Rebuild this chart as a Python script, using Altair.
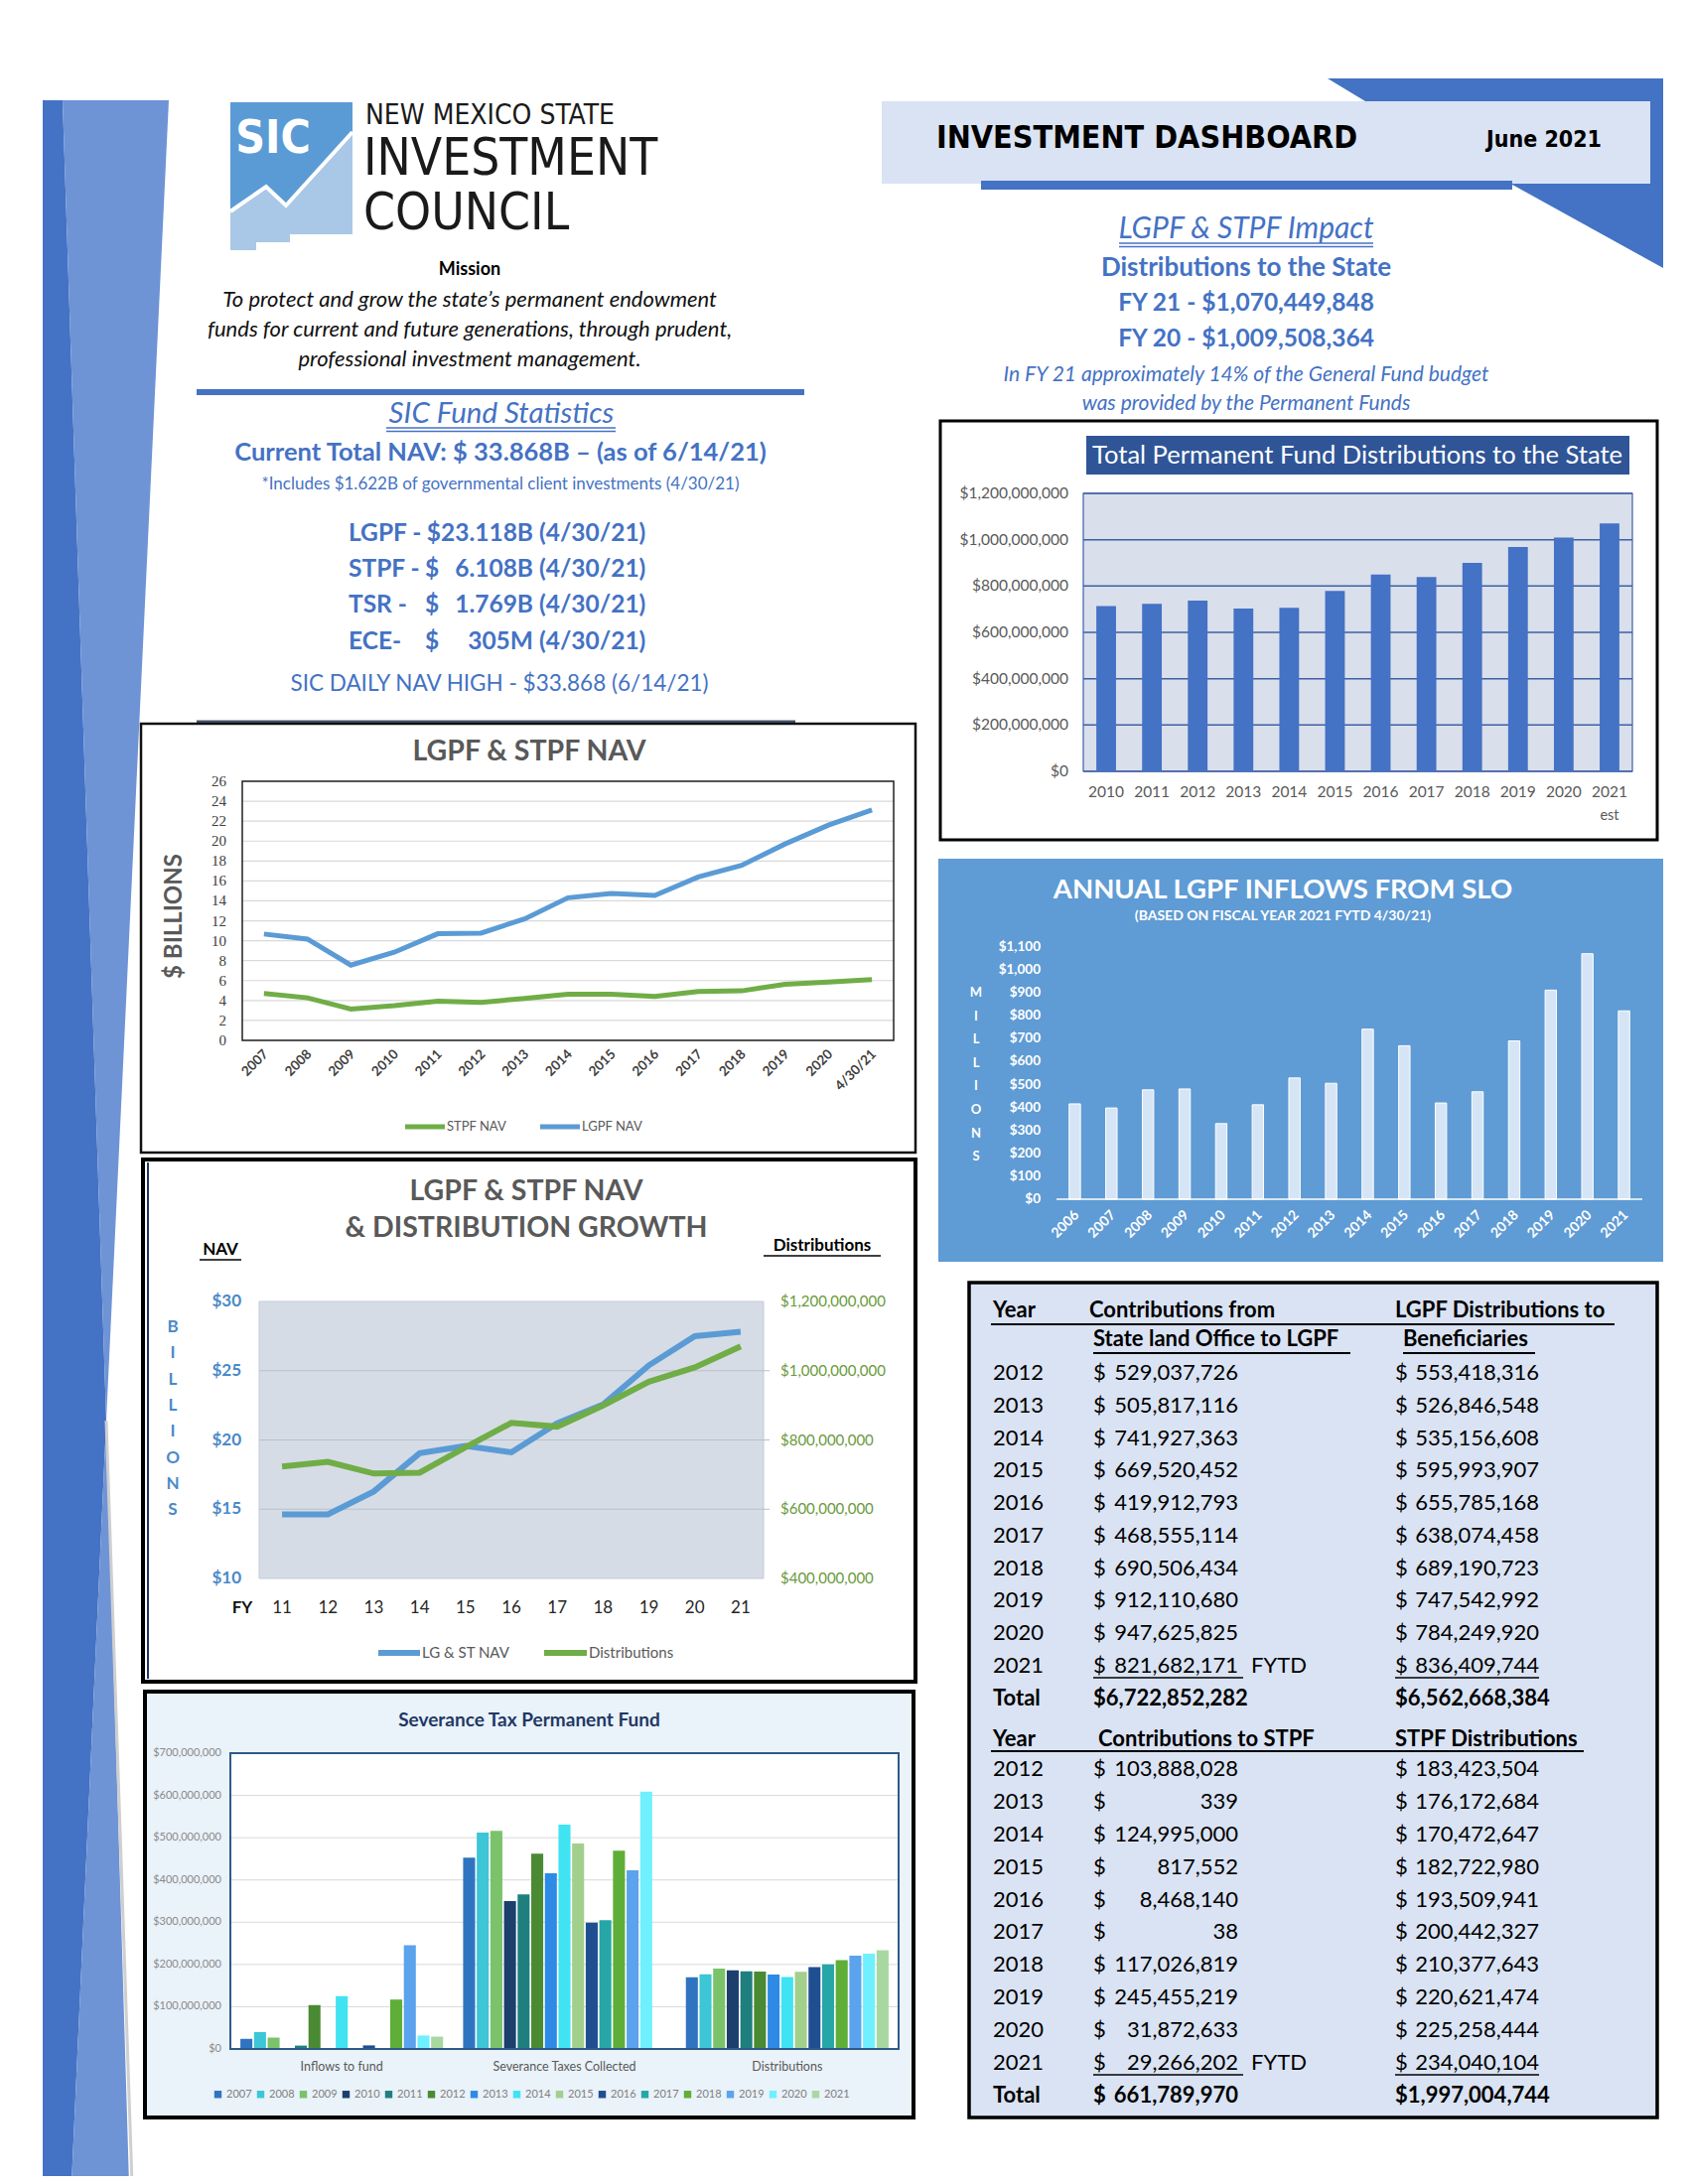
import altair as alt
import pandas as pd

# ---------------- data ----------------
# Total Permanent Fund Distributions to the State
dist_years = ["2010", "2011", "2012", "2013", "2014", "2015", "2016", "2017", "2018", "2019", "2020", "2021"]
dist_total = [714e6, 723e6, 736.8e6, 703.0e6, 705.6e6, 778.7e6, 849.3e6, 838.5e6, 899.6e6, 968.2e6, 1009.5e6, 1070.4e6]
dist_ticks = [0, 200e6, 400e6, 600e6, 800e6, 1000e6, 1200e6]

# LGPF & STPF NAV ($ billions)
nav_years = ["2007", "2008", "2009", "2010", "2011", "2012", "2013", "2014", "2015", "2016",
             "2017", "2018", "2019", "2020", "4/30/21"]
lgpf_nav = [10.67, 10.17, 7.55, 8.84, 10.70, 10.77, 12.19, 14.31, 14.74, 14.54, 16.40, 17.56, 19.71, 21.60, 23.12]
stpf_nav = [4.70, 4.27, 3.15, 3.48, 3.94, 3.81, 4.21, 4.64, 4.64, 4.41, 4.90, 4.97, 5.63, 5.86, 6.11]
nav_ticks = [0, 2, 4, 6, 8, 10, 12, 14, 16, 18, 20, 22, 24, 26]

# LGPF & STPF NAV & distribution growth
fy_labels = ["11", "12", "13", "14", "15", "16", "17", "18", "19", "20", "21"]
growth_nav = [14.63, 14.63, 16.28, 19.04, 19.56, 19.11, 21.21, 22.56, 25.39, 27.49, 27.81]
growth_dist = [723e6, 736.8e6, 703.0e6, 705.6e6, 778.7e6, 849.3e6, 838.5e6, 899.6e6, 968.2e6, 1009.5e6, 1070.4e6]
growth_nav_ticks = [10, 15, 20, 25, 30]
growth_dist_ticks = [400e6, 600e6, 800e6, 1000e6, 1200e6]

# Annual LGPF inflows from SLO ($ millions)
slo_years = ["2006", "2007", "2008", "2009", "2010", "2011", "2012", "2013", "2014", "2015",
             "2016", "2017", "2018", "2019", "2020", "2021"]
slo_inflows = [416, 398, 477, 481, 330, 412, 529.0, 505.8, 741.9, 669.5, 419.9, 468.6, 690.5, 912.1, 1071, 821.7]
slo_ticks = [0, 100, 200, 300, 400, 500, 600, 700, 800, 900, 1000, 1100]

# Severance Tax Permanent Fund
sev_groups = ["Inflows to fund", "Severance Taxes Collected", "Distributions"]
sev_years = ["2007", "2008", "2009", "2010", "2011", "2012", "2013", "2014", "2015", "2016",
             "2017", "2018", "2019", "2020", "2021"]
sev_inflows = [24e6, 40e6, 27e6, 2e6, 8e6, 103.9e6, 339, 125.0e6, 0.8e6, 8.5e6, 38, 117.0e6, 245.5e6, 31.9e6, 29.3e6]
sev_taxes = [453e6, 512e6, 516e6, 350e6, 366e6, 462e6, 416e6, 531e6, 486e6, 299e6, 305e6, 469e6, 423e6, 609e6, None]
sev_dist = [170e6, 177e6, 190e6, 186e6, 184e6, 183.4e6, 176.2e6, 170.5e6, 182.7e6, 193.5e6, 200.4e6,
            210.4e6, 220.6e6, 225.3e6, 234.0e6]
sev_colors = ["#2f74c0", "#3cc6d6", "#7ac36a", "#1c3f6e", "#1f7f7f", "#4a8a33", "#2d8be6", "#3fe3f2",
              "#a3cf8c", "#1f4f91", "#26a6a6", "#5fae37", "#5ba3ec", "#6ff0ff", "#a9d7a0"]
sev_ticks = [0, 100e6, 200e6, 300e6, 400e6, 500e6, 600e6, 700e6]

# Tables
tbl_years = ["2012", "2013", "2014", "2015", "2016", "2017", "2018", "2019", "2020", "2021"]
lgpf_contrib = [529037726, 505817116, 741927363, 669520452, 419912793, 468555114, 690506434, 912110680, 947625825, 821682171]
lgpf_distrib = [553418316, 526846548, 535156608, 595993907, 655785168, 638074458, 689190723, 747542992, 784249920, 836409744]
lgpf_totals = ["$6,722,852,282", "$6,562,668,384"]
stpf_contrib = [103888028, 339, 124995000, 817552, 8468140, 38, 117026819, 245455219, 31872633, 29266202]
stpf_distrib = [183423504, 176172684, 170472647, 182722980, 193509941, 200442327, 210377643, 220621474, 225258444, 234040104]
stpf_totals = ["661,789,970", "$1,997,004,744"]

# Text blocks
mission_lines = ["To protect and grow the state\u2019s permanent endowment",
                 "funds for current and future generations, through prudent,",
                 "professional investment management."]
stat_labels = ["LGPF -", "STPF -", "TSR -", "ECE-"]
stat_values = ["$23.118B", "6.108B", "1.769B", "305M"]
stat_dates = ["(4/30/21)", "(4/30/21)", "(4/30/21)", "(4/30/21)"]

# ---------------- layout helpers ----------------
W, H = 1684, 2184
def X(p): return p - 8
def Y(p): return p - 8

FONT = "Lato"
NARROW = "Liberation Sans Narrow, DejaVu Sans Condensed, sans-serif"
SERIF = "Liberation Serif"
BLUE = "#4472c4"
ONE = pd.DataFrame({"k": [0]})
PX = alt.Scale(domain=[0, 1700], range=[X(0), X(1700)], zero=False, nice=False)
PY = alt.Scale(domain=[0, 2200], range=[Y(0), Y(2200)], zero=False, nice=False)

layers = []
add = layers.append

def T(s, x, y, size, color="black", weight="normal", italic=False, align="center", font=FONT, angle=None,
      baseline="middle"):
    kw = dict(fontSize=size, color=color, fontWeight=weight, align=align, font=font, baseline=baseline)
    if italic:
        kw["fontStyle"] = "italic"
    if angle is not None:
        kw["angle"] = angle
    return alt.Chart(ONE).mark_text(**kw).encode(x=alt.value(X(x)), y=alt.value(Y(y)), text=alt.value(s))

def RECT(x1, y1, x2, y2, fill=None, stroke=None, sw=1):
    kw = {"fill": fill if fill else "transparent"}
    if stroke:
        kw["stroke"] = stroke
        kw["strokeWidth"] = sw
    return alt.Chart(ONE).mark_rect(**kw).encode(
        x=alt.value(X(x1)), x2=alt.value(X(x2)), y=alt.value(Y(y1)), y2=alt.value(Y(y2)))

def RULE(x1, y1, x2, y2, color, w):
    return alt.Chart(ONE).mark_rule(stroke=color, strokeWidth=w).encode(
        x=alt.value(X(x1)), x2=alt.value(X(x2)), y=alt.value(Y(y1)), y2=alt.value(Y(y2)))

def money(v):
    return "$" + f"{v:,.0f}"

def ylabels(ticks, texts, scale, px, size, color, weight="normal", font=FONT, align="right"):
    df = pd.DataFrame({"v": ticks, "lab": texts})
    return alt.Chart(df).mark_text(font=font, fontSize=size, color=color, fontWeight=weight, align=align,
                                   baseline="middle").encode(
        y=alt.Y("v:Q", scale=scale, axis=None), x=alt.value(X(px)), text="lab:N")

def xlabels(cats, scale, py, size, color, weight="normal", angle=None, font=FONT, dx=0):
    df = pd.DataFrame({"c": cats})
    kw = dict(font=font, fontSize=size, color=color, fontWeight=weight, baseline="middle")
    if angle is not None:
        kw.update(angle=angle, align="right", dx=dx)
    else:
        kw.update(align="center")
    return alt.Chart(df).mark_text(**kw).encode(
        x=alt.X("c:N", sort=cats, scale=scale, axis=None), y=alt.value(Y(py)), text="c:N")

# ---------------- decorations ----------------
band_y = [101, 1431, 2200]
band_l = [43, 43, 43]
band_m = [63, 107, 72]
band_r = [170, 107, 130]
add(alt.Chart(pd.DataFrame({"py": band_y, "a": band_l, "b": band_m})).mark_area(orient="horizontal", color="#4472c4").encode(
    y=alt.Y("py:Q", scale=PY, axis=None), x=alt.X("a:Q", scale=PX, axis=None), x2="b:Q"))
add(alt.Chart(pd.DataFrame({"py": band_y, "a": band_m, "b": band_r})).mark_area(orient="horizontal", color="#6e94d6").encode(
    y=alt.Y("py:Q", scale=PY, axis=None), x=alt.X("a:Q", scale=PX, axis=None), x2="b:Q"))
add(RULE(107, 1431, 133, 2200, "#cfcfcf", 3))

# logo
add(RECT(232, 103, 355, 236, fill="#a9c7e7"))
add(RECT(232, 235, 292, 244, fill="#a9c7e7"))
add(RECT(232, 243, 258, 252, fill="#a9c7e7"))
zig = pd.DataFrame({"px": [232, 268, 288, 355], "py": [213, 188, 207, 133], "top": [103, 103, 103, 103]})
add(alt.Chart(zig).mark_area(orient="vertical", color="#5b9bd5").encode(
    x=alt.X("px:Q", scale=PX, axis=None), y=alt.Y("top:Q", scale=PY, axis=None), y2="py:Q"))
add(alt.Chart(zig).mark_line(color="white", strokeWidth=4).encode(
    x=alt.X("px:Q", scale=PX, axis=None), y=alt.Y("py:Q", scale=PY, axis=None)))
add(T("SIC", 275, 140, 46, color="white", weight="bold", font=NARROW))
add(T("NEW MEXICO STATE", 368, 117, 28, color="#1a1a1a", align="left", font=NARROW))
add(T("INVESTMENT", 366, 161, 51, color="#1a1a1a", align="left", font=NARROW))
add(T("COUNCIL", 366, 215.5, 51, color="#1a1a1a", align="left", font=NARROW))

# mission
add(T("Mission", 473, 272, 18, weight="bold"))
for i, line in enumerate(mission_lines):
    add(T(line, 473, [302, 332, 362][i], 22, italic=True, color="#111111"))
add(RULE(198, 395, 810, 395, BLUE, 6))

# fund statistics
add(T("SIC Fund Statistics", 505, 417, 29.5, color=BLUE, italic=True))
add(RULE(389, 431, 620, 431, BLUE, 1.5))
add(RULE(389, 434.5, 620, 434.5, BLUE, 1.5))
add(T("Current Total NAV: $ 33.868B \u2013 (as of 6/14/21)", 504, 456, 25.5, color=BLUE, weight="bold"))
add(T("*Includes $1.622B of governmental client investments (4/30/21)", 504, 488, 17, color=BLUE))
for i in range(4):
    yy = [538, 574, 610, 647][i]
    add(T(stat_labels[i], 351, yy, 24.5, color=BLUE, weight="bold", align="left"))
    if i > 0:
        add(T("$", 428, yy, 24.5, color=BLUE, weight="bold", align="left"))
    add(T(stat_values[i], 537, yy, 24.5, color=BLUE, weight="bold", align="right"))
    add(T(stat_dates[i], 543, yy, 24.5, color=BLUE, weight="bold", align="left"))
add(T("SIC DAILY NAV HIGH - $33.868 (6/14/21)", 503, 689, 22.5, color=BLUE))
add(RULE(198, 727, 801, 727, "#44546a", 3))

# header right
add(alt.Chart(pd.DataFrame({"px": [1337, 1375, 1523, 1675], "top": [79, 79, 79, 79], "bot": [79, 102, 186, 270]})).mark_area(
    orient="vertical", color=BLUE).encode(
    x=alt.X("px:Q", scale=PX, axis=None), y=alt.Y("top:Q", scale=PY, axis=None), y2="bot:Q"))
add(RECT(888, 102, 1662, 185, fill="#dae3f3"))
add(RECT(988, 182, 1523, 191, fill=BLUE))
add(T("INVESTMENT DASHBOARD", 943, 139, 32, weight="bold", align="left", font=NARROW))
add(T("June 2021", 1497, 141, 23, weight="bold", align="left", font=NARROW))

add(T("LGPF & STPF Impact", 1255, 231, 30, color=BLUE, italic=True))
add(RULE(1127, 245, 1383, 245, BLUE, 1.5))
add(RULE(1127, 248.5, 1383, 248.5, BLUE, 1.5))
add(T("Distributions to the State", 1255, 270, 26, color=BLUE, weight="bold"))
add(T("FY 21 - $1,070,449,848", 1255, 306, 24.5, color=BLUE, weight="bold"))
add(T("FY 20 - $1,009,508,364", 1255, 342, 24.5, color=BLUE, weight="bold"))
add(T("In FY 21 approximately 14% of the General Fund budget", 1255, 378, 21, color=BLUE, italic=True))
add(T("was provided by the Permanent Funds", 1255, 407, 21, color=BLUE, italic=True))

# ---------------- Chart A: Total Permanent Fund Distributions ----------------
add(RECT(947, 424, 1669, 846, fill="white", stroke="black", sw=3))
add(RECT(1094, 439, 1641, 478, fill="#2f5597"))
add(T("Total Permanent Fund Distributions to the State", 1367, 459, 25.5, color="white"))
a_x = alt.Scale(domain=dist_years, range=[X(1091), X(1644)], paddingInner=0.57, paddingOuter=0.285)
a_y = alt.Scale(domain=[0, 1.2e9], range=[Y(777), Y(497)], nice=False, zero=False)
a_bg = RECT(1091, 497, 1644, 777, fill="#d9dfeb")
a_edges = RECT(1091, 497, 1644, 777, stroke="#3f5fa6", sw=1.2)
a_grid = alt.Chart(pd.DataFrame({"v": dist_ticks})).mark_rule(stroke="#3f5fa6", strokeWidth=1.5).encode(
    y=alt.Y("v:Q", scale=a_y, axis=None), x=alt.value(X(1091)), x2=alt.value(X(1644)))
a_bars = alt.Chart(pd.DataFrame({"year": dist_years, "amt": dist_total})).mark_bar(color=BLUE).encode(
    x=alt.X("year:O", sort=dist_years, scale=a_x, axis=None),
    y=alt.Y("amt:Q", scale=a_y, axis=None))
a_ylab = ylabels(dist_ticks, [money(v) for v in dist_ticks], a_y, 1076, 15.5, "#595959")
a_xlab = xlabels(dist_years, a_x, 798, 15.5, "#595959")
add(alt.layer(a_bg, a_grid, a_edges, a_bars, a_ylab, a_xlab))
add(T("est", 1621, 822, 14.5, color="#595959"))

# ---------------- Chart B: LGPF & STPF NAV ----------------
add(RECT(142, 729, 922, 1161, fill="white", stroke="#111111", sw=2.5))
add(T("LGPF & STPF NAV", 533, 757, 28.5, color="#595959", weight="bold"))
add(T("$ BILLIONS", 176, 923, 24, color="#595959", weight="bold", angle=270))
b_x = alt.Scale(domain=nav_years, range=[X(244), X(900)], padding=0.5)
b_y = alt.Scale(domain=[0, 26], range=[Y(1048), Y(787)], nice=False, zero=False)
nav_df = pd.DataFrame({"year": nav_years, "lgpf": lgpf_nav, "stpf": stpf_nav})
b_grid = alt.Chart(pd.DataFrame({"v": nav_ticks})).mark_rule(stroke="#d9d9d9", strokeWidth=1.2).encode(
    y=alt.Y("v:Q", scale=b_y, axis=None), x=alt.value(X(244)), x2=alt.value(X(900)))
b_frame = RECT(244, 787, 900, 1048, stroke="#222222", sw=1.5)
b_stpf = alt.Chart(nav_df).mark_line(stroke="#70ad47", strokeWidth=5).encode(
    x=alt.X("year:O", sort=nav_years, scale=b_x, axis=None),
    y=alt.Y("stpf:Q", scale=b_y, axis=None))
b_lgpf = alt.Chart(nav_df).mark_line(stroke="#5b9bd5", strokeWidth=5).encode(
    x=alt.X("year:O", sort=nav_years, scale=b_x, axis=None),
    y=alt.Y("lgpf:Q", scale=b_y, axis=None))
b_ylab = ylabels(nav_ticks, [str(v) for v in nav_ticks], b_y, 228, 15, "#404040", font=SERIF)
b_xlab = xlabels(nav_years, b_x, 1062, 13.5, "#404040", weight="bold", angle=315, dx=3)
add(alt.layer(b_grid, b_frame, b_stpf, b_lgpf, b_ylab, b_xlab))
add(RULE(408, 1135, 448, 1135, "#70ad47", 5))
add(T("STPF NAV", 450, 1135, 13, color="#595959", align="left"))
add(RULE(544, 1135, 584, 1135, "#5b9bd5", 5))
add(T("LGPF NAV", 586, 1135, 13, color="#595959", align="left"))

# ---------------- Chart C: NAV & distribution growth ----------------
add(RECT(144, 1168, 922, 1694, fill="white", stroke="black", sw=4))
add(RULE(149, 1171, 149, 1691, "#1f3864", 2))
add(T("LGPF & STPF NAV", 530, 1200, 28.5, color="#595959", weight="bold"))
add(T("& DISTRIBUTION GROWTH", 530, 1237, 28.5, color="#595959", weight="bold"))
add(T("NAV", 222, 1259, 17, weight="bold"))
add(RULE(201, 1269, 243, 1269, "black", 1.5))
add(T("Distributions", 828, 1255, 17, weight="bold"))
add(RULE(769, 1265, 887, 1265, "black", 1.5))
for i, ch in enumerate("BILLIONS"):
    add(T(ch, 174, 1337 + i * 26.3, 17, color="#4a89c8", weight="bold"))
add(T("FY", 244, 1620, 17, color="#111111", weight="bold"))
c_x = alt.Scale(domain=fy_labels, range=[X(261), X(769)], padding=0.5)
c_yl = alt.Scale(domain=[10, 30], range=[Y(1590), Y(1311)], nice=False, zero=False)
c_yr = alt.Scale(domain=[400e6, 1200e6], range=[Y(1590), Y(1311)], nice=False, zero=False)
c_bg = RECT(261, 1311, 769, 1590, fill="#d6dce5", stroke="#c3cbd8", sw=1)
c_grid = alt.Chart(pd.DataFrame({"v": growth_nav_ticks[1:4]})).mark_rule(stroke="#b8c0cc", strokeWidth=1.2).encode(
    y=alt.Y("v:Q", scale=c_yl, axis=None), x=alt.value(X(261)), x2=alt.value(X(775)))
g_df = pd.DataFrame({"fy": fy_labels, "nav": growth_nav, "dist": growth_dist})
c_nav = alt.Chart(g_df).mark_line(stroke="#5b9bd5", strokeWidth=6).encode(
    x=alt.X("fy:O", sort=fy_labels, scale=c_x, axis=None),
    y=alt.Y("nav:Q", scale=c_yl, axis=None))
c_dist = alt.Chart(g_df).mark_line(stroke="#70ad47", strokeWidth=6).encode(
    x=alt.X("fy:O", sort=fy_labels, scale=c_x, axis=None),
    y=alt.Y("dist:Q", scale=c_yr, axis=None))
c_lab_l = ylabels(growth_nav_ticks, ["$" + str(v) for v in growth_nav_ticks], c_yl, 243, 17, "#4a89c8", weight="bold")
c_lab_r = ylabels(growth_dist_ticks, [money(v) for v in growth_dist_ticks], c_yr, 786, 15, "#6a9a3c", align="left")
c_xlab = xlabels(fy_labels, c_x, 1620, 17, "#262626")
add(alt.layer(c_bg, c_grid, c_nav, c_lab_l, c_xlab, alt.layer(c_dist, c_lab_r)).resolve_scale(y="independent"))
add(RULE(381, 1665, 423, 1665, "#5b9bd5", 6))
add(T("LG & ST NAV", 425, 1665, 15, color="#595959", align="left"))
add(RULE(548, 1665, 591, 1665, "#70ad47", 6))
add(T("Distributions", 593, 1665, 15, color="#595959", align="left"))

# ---------------- Chart D: Severance Tax Permanent Fund ----------------
add(RECT(146, 1704, 920, 2133, fill="#eaf2fa", stroke="black", sw=4))
add(T("Severance Tax Permanent Fund", 533, 1733, 19, color="#1f3864", weight="bold"))
rows = []
for g, vals in zip(sev_groups, [sev_inflows, sev_taxes, sev_dist]):
    for yr, v in zip(sev_years, vals):
        if v is not None:
            rows.append({"grp": g, "year": yr, "val": v})
sev_df = pd.DataFrame(rows)
d_x = alt.Scale(domain=sev_groups, range=[X(232), X(905)], paddingInner=0.09, paddingOuter=0.045)
d_y = alt.Scale(domain=[0, 7e8], range=[Y(2064), Y(1766)], nice=False, zero=False)
d_bg = RECT(232, 1766, 905, 2064, fill="white")
d_grid = alt.Chart(pd.DataFrame({"v": sev_ticks})).mark_rule(stroke="#d9d9d9", strokeWidth=1).encode(
    y=alt.Y("v:Q", scale=d_y, axis=None), x=alt.value(X(232)), x2=alt.value(X(905)))
d_bars = alt.Chart(sev_df).mark_bar().encode(
    x=alt.X("grp:N", sort=sev_groups, scale=d_x, axis=None),
    xOffset=alt.XOffset("year:N", sort=sev_years, scale=alt.Scale(domain=sev_years, paddingInner=0.12)),
    y=alt.Y("val:Q", scale=d_y, axis=None),
    color=alt.Color("year:N", sort=sev_years, scale=alt.Scale(domain=sev_years, range=sev_colors),
                    legend=alt.Legend(orient="none", legendX=X(214), legendY=Y(2104), direction="horizontal",
                                      title=None, symbolType="square", symbolSize=55, symbolStrokeWidth=0,
                                      labelFont=FONT, labelFontSize=11, labelColor="#7f7f7f",
                                      columnPadding=3, labelOffset=3, columns=15)))
d_frame = RECT(232, 1766, 905, 2064, stroke="#2e5a8a", sw=2)
d_ylab = ylabels(sev_ticks, [money(v) for v in sev_ticks], d_y, 223, 11, "#8a8a8a")
d_xlab = xlabels(sev_groups, d_x, 2082, 12.5, "#595959")
add(alt.layer(d_bg, d_grid, d_bars, d_frame, d_ylab, d_xlab))

# ---------------- Chart E: Annual LGPF inflows from SLO ----------------
add(RECT(945, 865, 1675, 1271, fill="#5f9bd4"))
add(T("ANNUAL LGPF INFLOWS FROM SLO", 1292, 897, 27.5, color="white", weight="bold"))
add(T("(BASED ON FISCAL YEAR    2021 FYTD 4/30/21)", 1292, 923, 14, color="white", weight="bold"))
for i, ch in enumerate("MILLIONS"):
    add(T(ch, 983, 1000 + i * 23.6, 13, color="white", weight="bold"))
e_x = alt.Scale(domain=slo_years, range=[X(1064), X(1654)], paddingInner=0.69, paddingOuter=0.345)
e_y = alt.Scale(domain=[0, 1100], range=[Y(1208), Y(954)], nice=False, zero=False)
e_bars = alt.Chart(pd.DataFrame({"yr": slo_years, "v": slo_inflows})).mark_bar(fill="#d5e5f5", stroke="white", strokeWidth=1).encode(
    x=alt.X("yr:O", sort=slo_years, scale=e_x, axis=None),
    y=alt.Y("v:Q", scale=e_y, axis=None))
e_ylab = ylabels(slo_ticks, [money(v) for v in slo_ticks], e_y, 1048, 13.5, "white", weight="bold")
e_xlab = xlabels(slo_years, e_x, 1224, 14, "white", weight="bold", angle=315, dx=3)
add(alt.layer(e_bars, e_ylab, e_xlab))
add(RULE(1064, 1208, 1654, 1208, "white", 1.5))

# ---------------- Tables ----------------
add(RECT(976, 1292, 1669, 2133, fill="#dae3f3", stroke="black", sw=3.5))
TS = 22
add(T("Year", 1000, 1320, TS, align="left", weight="bold"))
add(T("Contributions from", 1097, 1320, TS, align="left", weight="bold"))
add(T("LGPF Distributions to", 1405, 1320, TS, align="left", weight="bold"))
add(RULE(998, 1334, 1626, 1334, "black", 2))
add(T("State land Office to LGPF", 1101, 1349, TS, align="left", weight="bold"))
add(T("Beneficiaries", 1413, 1349, TS, align="left", weight="bold"))
add(RULE(1101, 1363, 1360, 1363, "black", 2))
add(RULE(1413, 1363, 1546, 1363, "black", 2))

def table_block(years, c1, c2, y0, y1):
    ysc = alt.Scale(domain=years, range=[Y(y0), Y(y1)], padding=0)
    df = pd.DataFrame({"yr": years, "c1": [f"{v:,}" for v in c1], "c2": [f"{v:,}" for v in c2]})
    base = alt.Chart(df)
    out = []
    out.append(base.mark_text(font=FONT, fontSize=TS, align="left", baseline="middle", color="black").encode(
        y=alt.Y("yr:O", scale=ysc, axis=None), x=alt.value(X(1000)), text="yr:N"))
    out.append(base.mark_text(font=FONT, fontSize=TS, align="left", baseline="middle", color="black").encode(
        y=alt.Y("yr:O", scale=ysc, axis=None), x=alt.value(X(1101)), text=alt.value("$")))
    out.append(base.mark_text(font=FONT, fontSize=TS, align="right", baseline="middle", color="black").encode(
        y=alt.Y("yr:O", scale=ysc, axis=None), x=alt.value(X(1247)), text="c1:N"))
    out.append(base.mark_text(font=FONT, fontSize=TS, align="left", baseline="middle", color="black").encode(
        y=alt.Y("yr:O", scale=ysc, axis=None), x=alt.value(X(1405)), text=alt.value("$")))
    out.append(base.mark_text(font=FONT, fontSize=TS, align="right", baseline="middle", color="black").encode(
        y=alt.Y("yr:O", scale=ysc, axis=None), x=alt.value(X(1550)), text="c2:N"))
    return alt.layer(*out)

add(table_block(tbl_years, lgpf_contrib, lgpf_distrib, 1383, 1678))
add(T("FYTD", 1260, 1678, TS, align="left"))
add(RULE(1101, 1690, 1252, 1690, "black", 1.5))
add(RULE(1405, 1690, 1550, 1690, "black", 1.5))
add(T("Total", 1000, 1711, TS, weight="bold", align="left"))
add(T(lgpf_totals[0], 1101, 1711, TS, weight="bold", align="left"))
add(T(lgpf_totals[1], 1405, 1711, TS, weight="bold", align="left"))

add(T("Year", 1000, 1752, TS, align="left", weight="bold"))
add(T("Contributions to STPF", 1106, 1752, TS, align="left", weight="bold"))
add(T("STPF Distributions", 1405, 1752, TS, align="left", weight="bold"))
add(RULE(998, 1764, 1595, 1764, "black", 2))
add(table_block(tbl_years, stpf_contrib, stpf_distrib, 1782, 2078))
add(T("FYTD", 1260, 2078, TS, align="left"))
add(RULE(1101, 2090, 1252, 2090, "black", 1.5))
add(RULE(1405, 2090, 1550, 2090, "black", 1.5))
add(T("Total", 1000, 2111, TS, weight="bold", align="left"))
add(T("$", 1101, 2111, TS, weight="bold", align="left"))
add(T(stpf_totals[0], 1247, 2111, TS, weight="bold", align="right"))
add(T(stpf_totals[1], 1405, 2111, TS, weight="bold", align="left"))

chart = alt.layer(*layers).resolve_scale(x="independent", y="independent").properties(
    width=W, height=H, autosize=alt.AutoSizeParams(type="none"), padding=0, background="white"
).configure_view(strokeWidth=0)

chart.save("out.html", embed_options={"renderer": "svg", "actions": False})
